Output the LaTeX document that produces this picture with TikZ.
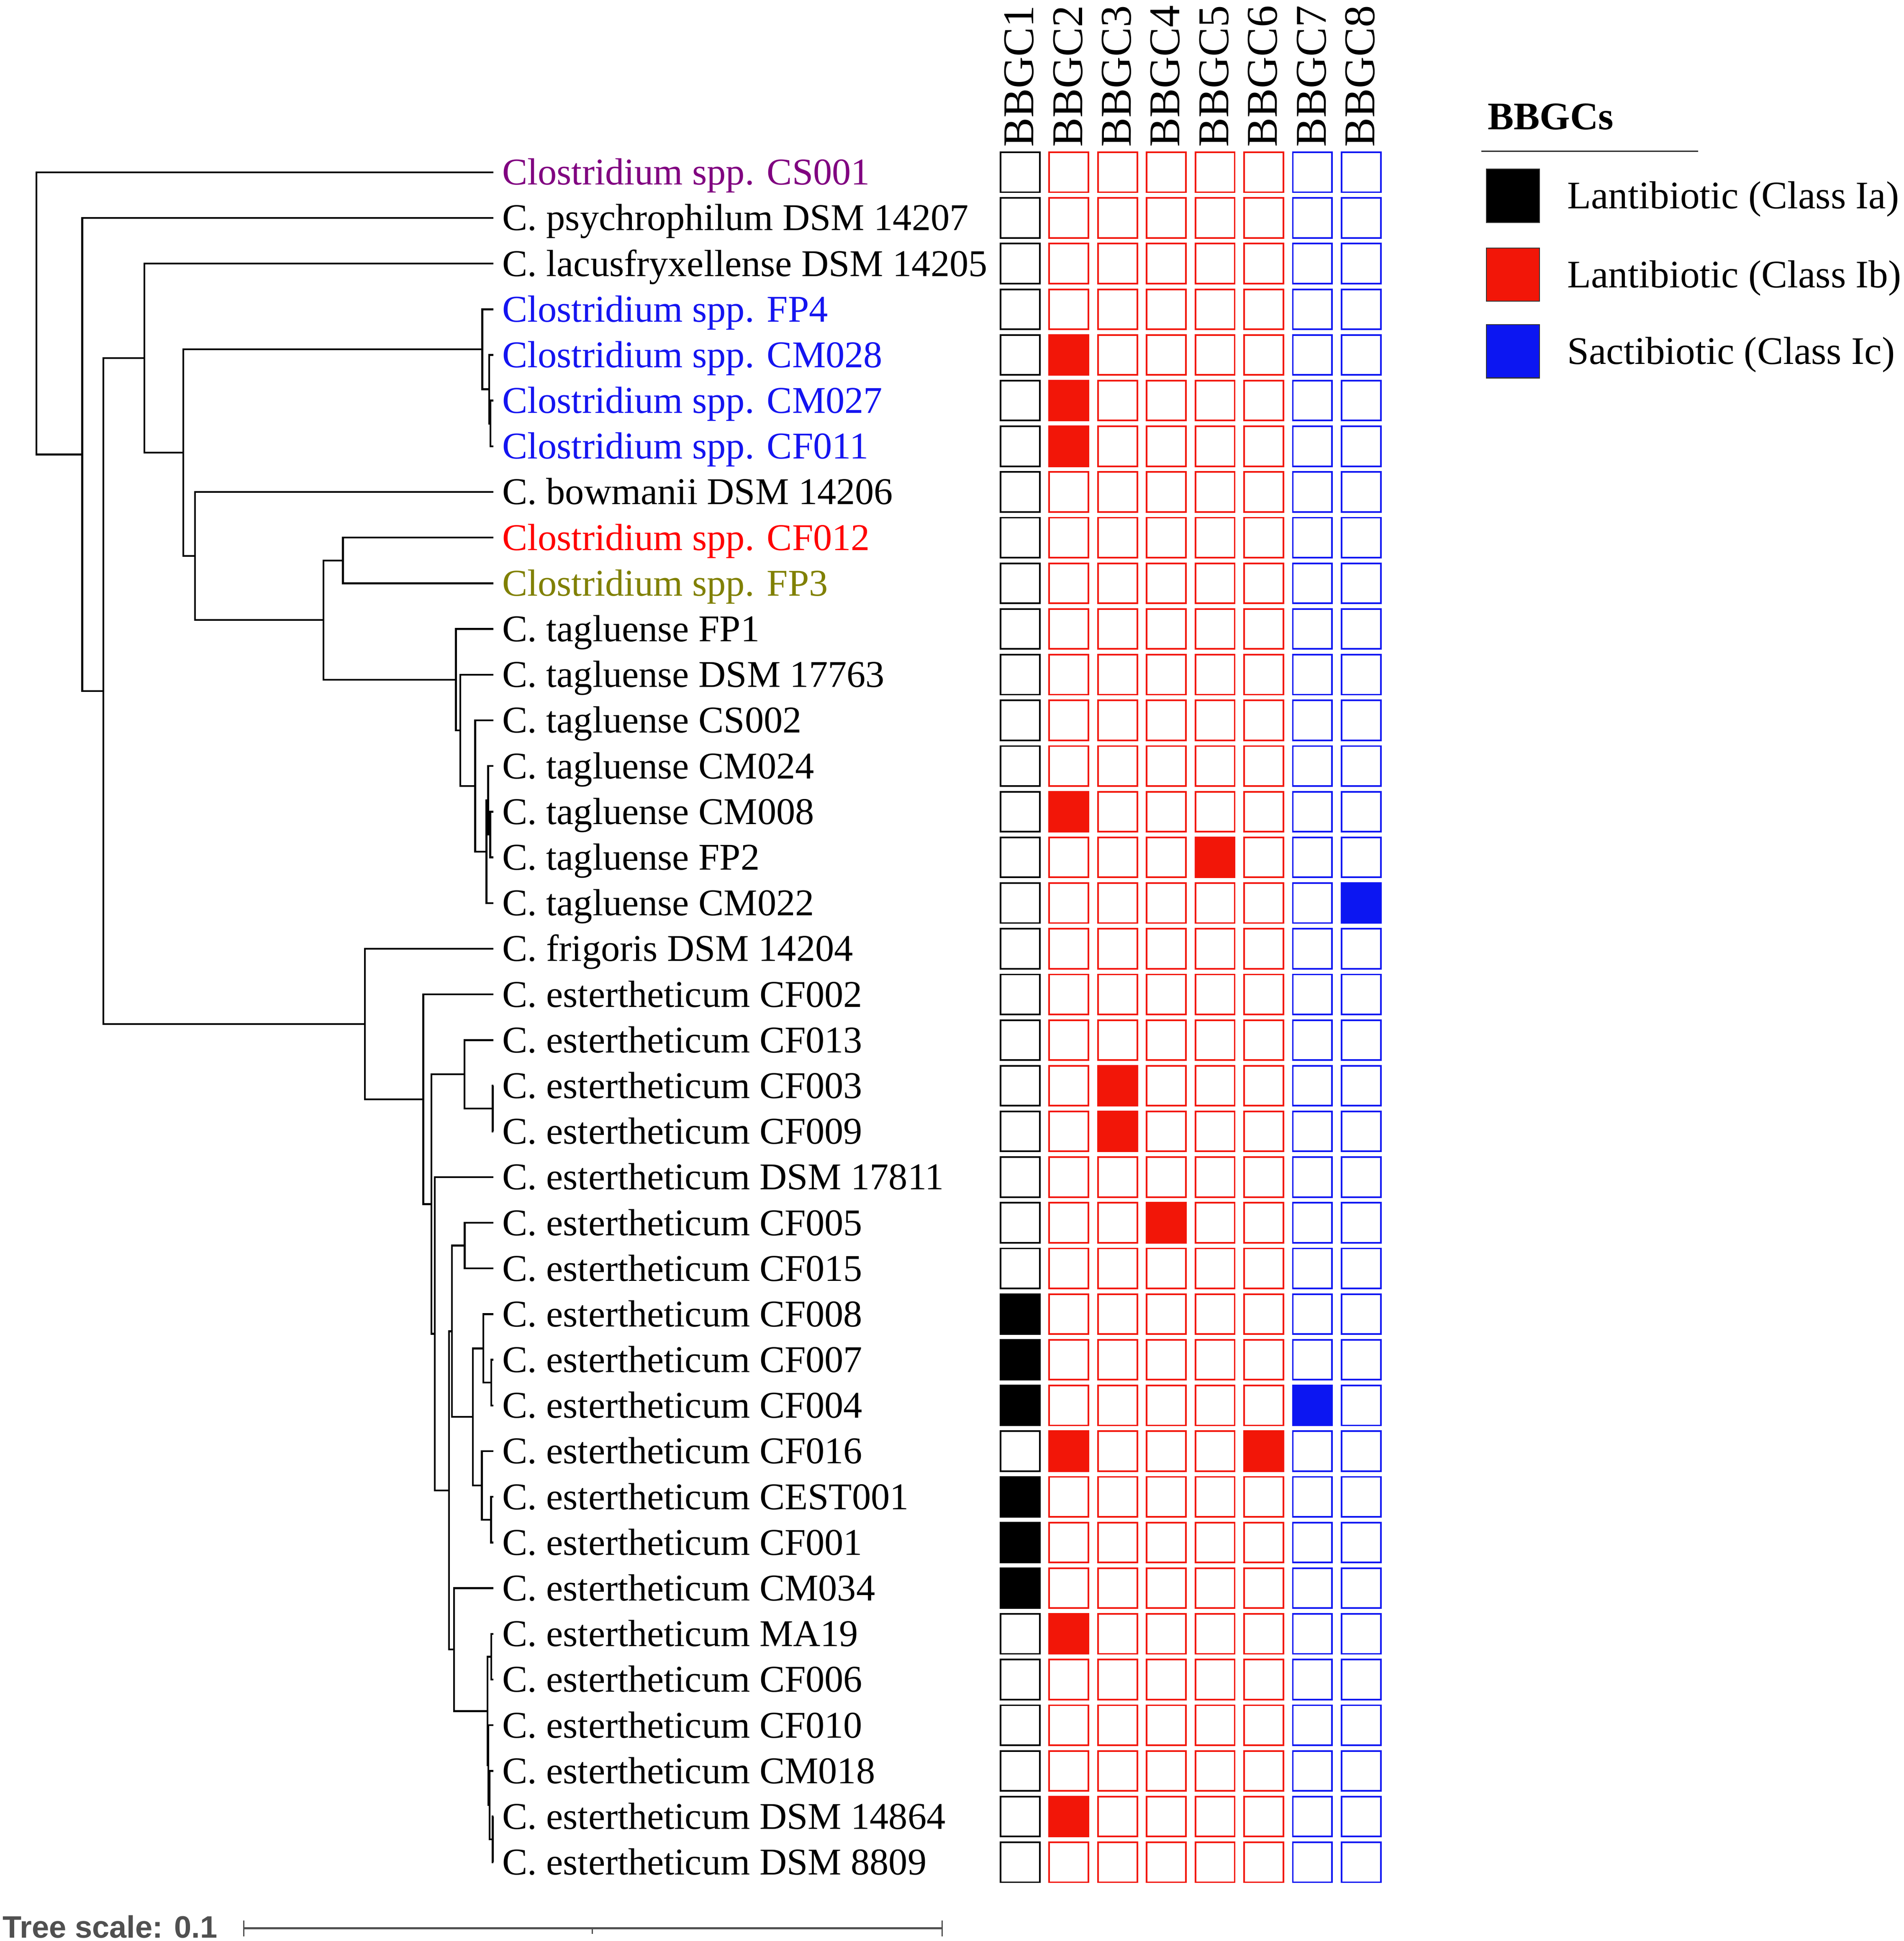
\documentclass[tikz,border=0pt]{standalone}
\usepackage{fontspec}
\setmainfont{Liberation Serif}
\newfontfamily\scalesans{Liberation Sans}

\definecolor{lantA}{RGB}{0,0,0}
\definecolor{lantB}{RGB}{242,22,8}
\definecolor{sactC}{RGB}{12,22,242}
\definecolor{txpurple}{RGB}{128,0,128}
\definecolor{txblue}{RGB}{20,20,240}
\definecolor{txred}{RGB}{255,0,0}
\definecolor{txolive}{RGB}{128,128,0}
\definecolor{scalegray}{RGB}{80,80,80}

\tikzset{
  branch/.style={line width=1.5pt, line join=miter},
  leaf/.style={anchor=west, inner xsep=7pt, inner ysep=0pt, text height=20.2pt, text depth=0pt,
    font=\fontsize{30.5}{36}\selectfont},
  colhead/.style={rotate=90, anchor=west, inner sep=0pt, text height=23.4pt, text depth=0pt,
    font=\fontsize{35.4}{40}\selectfont},
  cellbox/.style={line width=1.3pt},
  legbox/.style={draw=black!80, line width=0.7pt},
  legtext/.style={anchor=west, inner sep=0pt, text height=20.8pt, text depth=0pt,
    font=\fontsize{31.5}{36}\selectfont}
}

% filled heat map cell: column, row, colour
\newcommand{\hitcell}[3]{\fill[#3] ({806.5+39.3*#1},{#2-0.4545}) rectangle ++(33,0.909);}

\begin{document}
\begin{tikzpicture}[x=1pt, y=-1pt]

    \useasboundingbox (0,0) rectangle (1536,1566.4);

    \begin{scope}[shift={(0,139)}, y=-36.86pt]

        % leaves
        \node[leaf, text=txpurple] (l0) at (398,0) {Clostridium spp. CS001};
        \node[leaf] (l1) at (398,1) {C. psychrophilum DSM 14207};
        \node[leaf] (l2) at (398,2) {C. lacusfryxellense DSM 14205};
        \node[leaf, text=txblue] (l3) at (398,3) {Clostridium spp. FP4};
        \node[leaf, text=txblue] (l4) at (398,4) {Clostridium spp. CM028};
        \node[leaf, text=txblue] (l5) at (398,5) {Clostridium spp. CM027};
        \node[leaf, text=txblue] (l6) at (398,6) {Clostridium spp. CF011};
        \node[leaf] (l7) at (398,7) {C. bowmanii DSM 14206};
        \node[leaf, text=txred] (l8) at (398,8) {Clostridium spp. CF012};
        \node[leaf, text=txolive] (l9) at (398,9) {Clostridium spp. FP3};
        \node[leaf] (l10) at (398,10) {C. tagluense FP1};
        \node[leaf] (l11) at (398,11) {C. tagluense DSM 17763};
        \node[leaf] (l12) at (398,12) {C. tagluense CS002};
        \node[leaf] (l13) at (398,13) {C. tagluense CM024};
        \node[leaf] (l14) at (398,14) {C. tagluense CM008};
        \node[leaf] (l15) at (398,15) {C. tagluense FP2};
        \node[leaf] (l16) at (398,16) {C. tagluense CM022};
        \node[leaf] (l17) at (398,17) {C. frigoris DSM 14204};
        \node[leaf] (l18) at (398,18) {C. estertheticum CF002};
        \node[leaf] (l19) at (398,19) {C. estertheticum CF013};
        \node[leaf] (l20) at (398,20) {C. estertheticum CF003};
        \node[leaf] (l21) at (398,21) {C. estertheticum CF009};
        \node[leaf] (l22) at (398,22) {C. estertheticum DSM 17811};
        \node[leaf] (l23) at (398,23) {C. estertheticum CF005};
        \node[leaf] (l24) at (398,24) {C. estertheticum CF015};
        \node[leaf] (l25) at (398,25) {C. estertheticum CF008};
        \node[leaf] (l26) at (398,26) {C. estertheticum CF007};
        \node[leaf] (l27) at (398,27) {C. estertheticum CF004};
        \node[leaf] (l28) at (398,28) {C. estertheticum CF016};
        \node[leaf] (l29) at (398,29) {C. estertheticum CEST001};
        \node[leaf] (l30) at (398,30) {C. estertheticum CF001};
        \node[leaf] (l31) at (398,31) {C. estertheticum CM034};
        \node[leaf] (l32) at (398,32) {C. estertheticum MA19};
        \node[leaf] (l33) at (398,33) {C. estertheticum CF006};
        \node[leaf] (l34) at (398,34) {C. estertheticum CF010};
        \node[leaf] (l35) at (398,35) {C. estertheticum CM018};
        \node[leaf] (l36) at (398,36) {C. estertheticum DSM 14864};
        \node[leaf] (l37) at (398,37) {C. estertheticum DSM 8809};

        % inner nodes of the tree
        \coordinate (nRoot) at (29.4,3.09);
        \coordinate (nA) at (66.3,6.18);
        \coordinate (nB) at (83.4,11.36);
        \coordinate (nC) at (116.5,4.07);
        \coordinate (nE) at (147.8,6.14);
        \coordinate (nF) at (389.0,3.875);
        \coordinate (nF2) at (394.7,4.75);
        \coordinate (nF3) at (395.6,5.5);
        \coordinate (nG) at (157.3,8.40);
        \coordinate (nH) at (260.9,9.80);
        \coordinate (nI) at (276.6,8.5);
        \coordinate (nJ) at (367.8,11.11);
        \coordinate (nK) at (371.3,12.22);
        \coordinate (nL) at (383.3,13.44);
        \coordinate (nM) at (392.5,14.875);
        \coordinate (nN) at (393.8,13.75);
        \coordinate (nO) at (395.5,14.5);
        \coordinate (nD) at (294.4,18.65);
        \coordinate (nP) at (341.5,20.30);
        \coordinate (nQ) at (348.1,22.59);
        \coordinate (nR) at (374.8,19.75);
        \coordinate (nR2) at (397.5,20.5);
        \coordinate (nS) at (350.7,25.43);
        \coordinate (nT) at (362.2,28.86);
        \coordinate (nU) at (364.6,25.375);
        \coordinate (nW) at (374.9,23.5);
        \coordinate (nX) at (381.5,27.25);
        \coordinate (nY) at (390.0,25.75);
        \coordinate (nY2) at (396.3,26.5);
        \coordinate (nZ) at (388.8,28.75);
        \coordinate (nZ2) at (396.1,29.5);
        \coordinate (nV) at (366.3,32.34);
        \coordinate (nAA) at (393.3,33.69);
        \coordinate (nAB) at (396.4,32.5);
        \coordinate (nAC) at (394.0,34.875);
        \coordinate (nAD) at (395.0,35.75);
        \coordinate (nAE) at (397.5,36.5);

        % branches
        \draw[branch] (nRoot) |- (l0.west) (nRoot) |- (nA);
        \draw[branch] (nA) |- (l1.west) (nA) |- (nB);
        \draw[branch] (nB) |- (nC) (nB) |- (nD);
        \draw[branch] (nC) |- (l2.west) (nC) |- (nE);
        \draw[branch] (nE) |- (nF) (nE) |- (nG);
        \draw[branch] (nF) |- (l3.west) (nF) |- (nF2);
        \draw[branch] (nF2) |- (l4.west) (nF2) |- (nF3);
        \draw[branch] (nF3) |- (l5.west) (nF3) |- (l6.west);
        \draw[branch] (nG) |- (l7.west) (nG) |- (nH);
        \draw[branch] (nH) |- (nI) (nH) |- (nJ);
        \draw[branch] (nI) |- (l8.west) (nI) |- (l9.west);
        \draw[branch] (nJ) |- (l10.west) (nJ) |- (nK);
        \draw[branch] (nK) |- (l11.west) (nK) |- (nL);
        \draw[branch] (nL) |- (l12.west) (nL) |- (nM);
        \draw[branch] (nM) |- (nN) (nM) |- (l16.west);
        \draw[branch] (nN) |- (l13.west) (nN) |- (nO);
        \draw[branch] (nO) |- (l14.west) (nO) |- (l15.west);
        \draw[branch] (nD) |- (l17.west) (nD) |- (nP);
        \draw[branch] (nP) |- (l18.west) (nP) |- (nQ);
        \draw[branch] (nQ) |- (nR) (nQ) |- (nS);
        \draw[branch] (nR) |- (l19.west) (nR) |- (nR2);
        \draw[branch] (nR2) |- (l20.west) (nR2) |- (l21.west);
        \draw[branch] (nS) |- (l22.west) (nS) |- (nT);
        \draw[branch] (nT) |- (nU) (nT) |- (nV);
        \draw[branch] (nU) |- (nW) (nU) |- (nX);
        \draw[branch] (nW) |- (l23.west) (nW) |- (l24.west);
        \draw[branch] (nX) |- (nY) (nX) |- (nZ);
        \draw[branch] (nY) |- (l25.west) (nY) |- (nY2);
        \draw[branch] (nY2) |- (l26.west) (nY2) |- (l27.west);
        \draw[branch] (nZ) |- (l28.west) (nZ) |- (nZ2);
        \draw[branch] (nZ2) |- (l29.west) (nZ2) |- (l30.west);
        \draw[branch] (nV) |- (l31.west) (nV) |- (nAA);
        \draw[branch] (nAA) |- (nAB) (nAA) |- (nAC);
        \draw[branch] (nAB) |- (l32.west) (nAB) |- (l33.west);
        \draw[branch] (nAC) |- (l34.west) (nAC) |- (nAD);
        \draw[branch] (nAD) |- (l35.west) (nAD) |- (nAE);
        \draw[branch] (nAE) |- (l36.west) (nAE) |- (l37.west);

        % column heads
        \foreach \c in {1,...,8}
            \node[colhead] (head\c) at ({822+39.3*(\c-1)},-0.551) {BBGC\c};

        % empty cells
        \foreach \r in {0,...,37} {
            \draw[cellbox, lantA] (807.15,{\r-0.437}) rectangle ++(31.7,0.874);
            \foreach \c in {1,...,5}
                \draw[cellbox, lantB] ({807.15+39.3*\c},{\r-0.437}) rectangle ++(31.7,0.874);
            \foreach \c in {6,7}
                \draw[cellbox, sactC] ({807.15+39.3*\c},{\r-0.437}) rectangle ++(31.7,0.874);
        }

        % hits
        \foreach \r in {25,26,27,29,30,31} \hitcell{0}{\r}{lantA};
        \foreach \r in {4,5,6,14,28,32,36} \hitcell{1}{\r}{lantB};
        \hitcell{2}{20}{lantB}
        \hitcell{2}{21}{lantB}
        \hitcell{3}{23}{lantB}
        \hitcell{4}{15}{lantB}
        \hitcell{5}{28}{lantB}
        \hitcell{6}{27}{sactC}
        \hitcell{7}{16}{sactC}

    \end{scope}

    % legend
    \node[anchor=base west, inner sep=0pt, font=\bfseries\fontsize{31.5}{36}\selectfont] (legtitle) at (1200,104.5) {BBGCs};
    \draw[line width=1pt, black!85] (1195,122) -- (1370,122);
    \draw[legbox, fill=lantA] (1199,136.5) rectangle (1242,179.5);
    \draw[legbox, fill=lantB] (1199,200.3) rectangle (1242,243.1);
    \draw[legbox, fill=sactC] (1199,261.9) rectangle (1242,305);
    \node[legtext] (legA) at (1264.2,158) {Lantibiotic (Class Ia)};
    \node[legtext] (legB) at (1264.2,221.7) {Lantibiotic (Class Ib)};
    \node[legtext] (legC) at (1264.2,283.5) {Sactibiotic (Class Ic)};

    % tree scale
    \node[anchor=base west, inner sep=0pt, text=scalegray, font=\scalesans\bfseries\fontsize{25}{30}\selectfont] (scaletxt) at (2,1564) {Tree scale: 0.1};
    \coordinate (sbL) at (196.5,1556);
    \coordinate (sbR) at (760,1556);
    \coordinate (sbM) at (478,1556);
    \draw[scalegray, line width=1.7pt] (sbL) -- (sbR);
    \draw[scalegray, line width=1pt] ([yshift=6pt]sbL) -- ([yshift=-6.5pt]sbL);
    \draw[scalegray, line width=1pt] ([yshift=6pt]sbR) -- ([yshift=-6.5pt]sbR);
    \draw[scalegray, line width=1pt] ([yshift=-1pt]sbM) -- ([yshift=-4.5pt]sbM);

\end{tikzpicture}
\end{document}
